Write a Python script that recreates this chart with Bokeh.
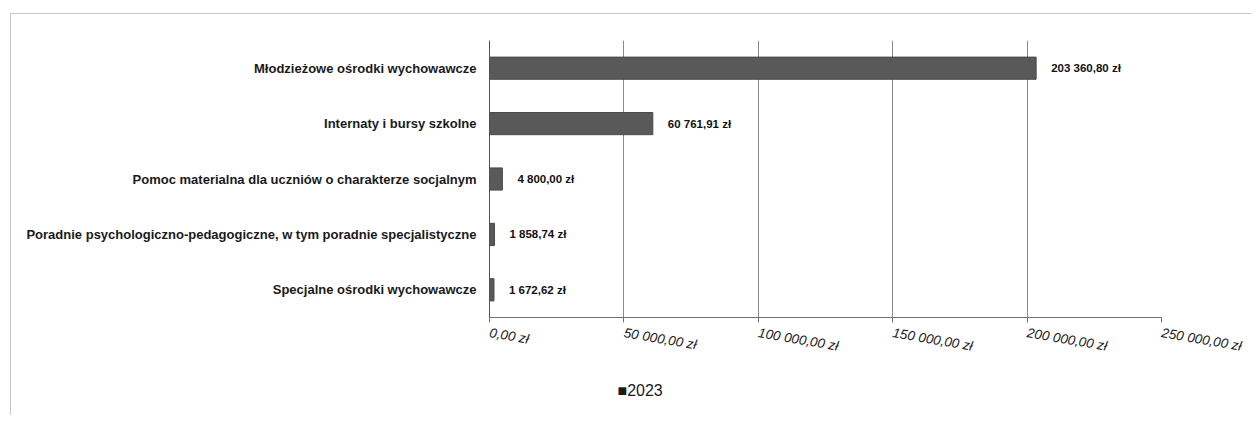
from bokeh.plotting import figure
from bokeh.models import (ColumnDataSource, Range1d, FixedTicker, CustomJSTickFormatter,
                          LabelSet, Title)
from bokeh.core.properties import value
from bokeh.embed import file_html
from bokeh.resources import INLINE

categories = [
    "Młodzieżowe ośrodki wychowawcze",
    "Internaty i bursy szkolne",
    "Pomoc materialna dla uczniów o charakterze socjalnym",
    "Poradnie psychologiczno-pedagogiczne, w tym poradnie specjalistyczne",
    "Specjalne ośrodki wychowawcze",
]
values_2023 = [203360.80, 60761.91, 4800.00, 1858.74, 1672.62]
x_ticks = [0, 50000, 100000, 150000, 200000, 250000]
series_name = "2023"


def fmt_pln(v):
    s = f"{v:,.2f}".replace(",", " ").replace(".", ",")
    return s + " zł"


labels = [fmt_pln(v) for v in values_2023]

src = ColumnDataSource(dict(cat=categories, val=values_2023, lab=labels))

FONT = "Liberation Sans"

p = figure(width=1251, height=415, y_range=list(reversed(categories)),
           x_range=Range1d(0, 250000), output_backend="svg", toolbar_location=None,
           min_border_left=489, min_border_right=90, min_border_top=40, min_border_bottom=97)
p.outline_line_color = None
p.background_fill_color = "white"
p.border_fill_alpha = 0
p.styles = {
    "background": ("linear-gradient(#c8c8c8, #c8c8c8) 10px 13px / 1px 100% no-repeat, "
                   "linear-gradient(#c8c8c8, #c8c8c8) 10px 13px / 100% 1px no-repeat, white"),
}

r = p.hbar(y="cat", right="val", left=0, height=0.4, source=src,
           fill_color="#595959", line_color="#4a4a4a")

p.add_layout(LabelSet(x="val", y="cat", text="lab", source=src, x_offset=15,
                      text_baseline="middle", text_font=value(FONT), text_font_size="11.5px",
                      text_font_style="bold", text_color="#111111"))

p.xaxis.ticker = FixedTicker(ticks=x_ticks)
p.xaxis.formatter = CustomJSTickFormatter(code="""
    const s = tick.toFixed(2).split('.');
    const int = s[0].replace(/\\B(?=(\\d{3})+(?!\\d))/g, ' ');
    return int + ',' + s[1] + ' zł';
""")
p.xaxis.major_label_orientation = -0.17
p.xaxis.major_label_text_font = FONT
p.xaxis.major_label_text_font_style = "italic"
p.xaxis.major_label_text_font_size = "13.5px"
p.xaxis.major_label_text_color = "#1a1a1a"
p.xaxis.major_label_standoff = 10
p.xaxis.axis_line_color = "#707070"
p.xaxis.major_tick_line_color = "#707070"
p.xaxis.major_tick_out = 5
p.xaxis.major_tick_in = 0
p.xaxis.minor_tick_line_color = None

p.yaxis.major_label_text_font = FONT
p.yaxis.major_label_text_font_size = "13px"
p.yaxis.major_label_text_font_style = "bold"
p.yaxis.major_label_text_color = "#1a1a1a"
p.yaxis.major_label_standoff = 7
p.yaxis.axis_line_color = "#505050"
p.yaxis.major_tick_line_color = None

p.xgrid.grid_line_color = "#8a8a8a"
p.ygrid.grid_line_color = None

legend_title = Title(text="\u25a0" + series_name, align="left", offset=128, standoff=33,
                     text_font=FONT, text_font_size="16px", text_font_style="normal",
                     text_color="#1a1a1a")
p.add_layout(legend_title, "below")

open("out.html", "w").write(file_html(p, INLINE))
